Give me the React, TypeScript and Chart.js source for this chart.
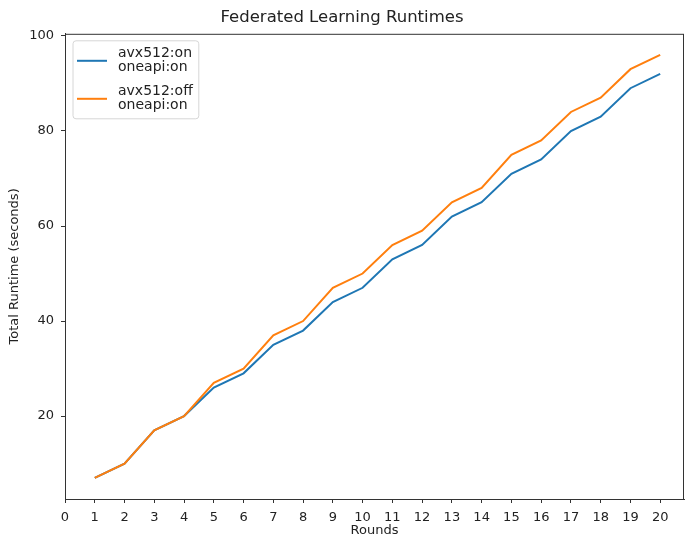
import React, { useEffect, useRef } from "react";
import { Chart, registerables } from "chart.js";

Chart.register(...registerables);

const rounds = [1, 2, 3, 4, 5, 6, 7, 8, 9, 10, 11, 12, 13, 14, 15, 16, 17, 18, 19, 20];
const avxOn = [7, 10, 17, 20, 26, 29, 35, 38, 44, 47, 53, 56, 62, 65, 71, 74, 80, 83, 89, 92];
const avxOff = [7, 10, 17, 20, 27, 30, 37, 40, 47, 50, 56, 59, 65, 68, 75, 78, 84, 87, 93, 96];
const xTicks = [0, 1, 2, 3, 4, 5, 6, 7, 8, 9, 10, 11, 12, 13, 14, 15, 16, 17, 18, 19, 20];
const yTicks = [20, 40, 60, 80, 100];
const seriesLabels = [["avx512:on", "oneapi:on"], ["avx512:off", "oneapi:on"]];
const FONT = "'DejaVu Sans', sans-serif";

const frameAndLegend = {
  id: "frameAndLegend",
  afterDraw(chart: any) {
    const { ctx, chartArea } = chart;
    ctx.save();
    // full frame (spines)
    ctx.strokeStyle = "#333";
    ctx.lineWidth = 1;
    ctx.strokeRect(chartArea.left + 0.5, chartArea.top + 0.5, chartArea.right - chartArea.left - 1, chartArea.bottom - chartArea.top);
    // legend
    ctx.font = `14px ${FONT}`;
    const x0 = chartArea.left + 8;
    const y0 = chartArea.top + 7;
    let maxW = 0;
    seriesLabels.forEach((ls) => ls.forEach((l) => { maxW = Math.max(maxW, ctx.measureText(l).width); }));
    const textX = x0 + 45;
    const w = textX + maxW + 6 - x0;
    const h = 78;
    const r = 3;
    ctx.beginPath();
    ctx.moveTo(x0 + r, y0);
    ctx.arcTo(x0 + w, y0, x0 + w, y0 + h, r);
    ctx.arcTo(x0 + w, y0 + h, x0, y0 + h, r);
    ctx.arcTo(x0, y0 + h, x0, y0, r);
    ctx.arcTo(x0, y0, x0 + w, y0, r);
    ctx.closePath();
    ctx.fillStyle = "rgba(255,255,255,0.8)";
    ctx.fill();
    ctx.strokeStyle = "#d6d6d6";
    ctx.stroke();
    chart.data.datasets.forEach((ds: any, i: number) => {
      const cy = y0 + 20 + i * 38;
      ctx.strokeStyle = ds.borderColor;
      ctx.lineWidth = 2;
      ctx.beginPath();
      ctx.moveTo(x0 + 4, cy);
      ctx.lineTo(x0 + 34, cy);
      ctx.stroke();
      ctx.fillStyle = "#222";
      ctx.textBaseline = "middle";
      ctx.textAlign = "left";
      seriesLabels[i].forEach((l, j) => {
        ctx.fillText(l, textX, cy - 7 + j * 14);
      });
    });
    ctx.restore();
  },
};

export default function App() {
  const ref = useRef<HTMLCanvasElement | null>(null);
  useEffect(() => {
    if (!ref.current) return;
    const chart = new Chart(ref.current, {
      type: "line",
      data: {
        datasets: [
          {
            label: seriesLabels[0].join(" "),
            data: rounds.map((r, i) => ({ x: r, y: avxOn[i] })),
            borderColor: "#1f77b4",
            backgroundColor: "#1f77b4",
            borderWidth: 2,
            pointRadius: 0,
            tension: 0,
            order: 1,
          },
          {
            label: seriesLabels[1].join(" "),
            data: rounds.map((r, i) => ({ x: r, y: avxOff[i] })),
            borderColor: "#ff7f0e",
            backgroundColor: "#ff7f0e",
            borderWidth: 2,
            pointRadius: 0,
            tension: 0,
            order: 0,
          },
        ],
      },
      plugins: [frameAndLegend],
      options: {
        animation: false,
        responsive: false,
        devicePixelRatio: 1,
        layout: { padding: { left: 0, right: 3, top: 0, bottom: 0 } },
        plugins: {
          legend: { display: false },
          tooltip: { enabled: false },
          title: {
            display: true,
            text: "Federated Learning Runtimes",
            color: "#222",
            font: { family: FONT, size: 16.5, weight: "normal" },
            padding: { top: 8, bottom: 6 },
          },
        },
        scales: {
          x: {
            type: "linear",
            min: 0,
            max: 20.8,
            afterBuildTicks: (s: any) => { s.ticks = xTicks.map((v) => ({ value: v })); },
            afterFit: (s: any) => { s.height = 43; },
            ticks: { color: "#222", font: { family: FONT, size: 13 }, padding: 7, maxRotation: 0, autoSkip: false },
            grid: { drawOnChartArea: false, drawTicks: true, tickLength: 4, color: "#333" },
            border: { display: true, color: "#333" },
            title: { display: true, text: "Rounds", color: "#222", font: { family: FONT, size: 13 }, padding: { top: 0, bottom: 4 } },
          },
          y: {
            type: "linear",
            min: 2.55,
            max: 100.45,
            afterBuildTicks: (s: any) => { s.ticks = yTicks.map((v) => ({ value: v })); },
            afterFit: (s: any) => { s.width = 65; },
            ticks: { color: "#222", font: { family: FONT, size: 13 }, padding: 7 },
            grid: { drawOnChartArea: false, drawTicks: true, tickLength: 4, color: "#333" },
            border: { display: true, color: "#333" },
            title: { display: true, text: "Total Runtime (seconds)", color: "#222", font: { family: FONT, size: 13 }, padding: { top: 7, bottom: 0 } },
          },
        },
      },
    } as any);
    return () => chart.destroy();
  }, []);
  return (
    <div style={{ position: "absolute", left: 0, top: 0, width: 687, height: 542, background: "#fff" }}>
      <canvas ref={ref} width={687} height={542} style={{ width: 687, height: 542, display: "block" }} />
    </div>
  );
}
